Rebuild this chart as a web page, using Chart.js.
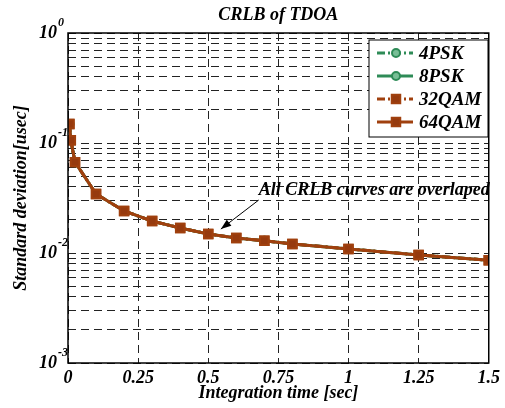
<!DOCTYPE html>
<html>
<head>
<meta charset="utf-8">
<script src="https://cdn.jsdelivr.net/npm/chart.js@4"></script>
<style>
  html,body{margin:0;padding:0;background:#fff;}
  #wrap{width:505px;height:408px;position:relative;}
</style>
</head>
<body>
<div id="wrap"><canvas id="c" width="505" height="408"></canvas></div>
<script>
// integration time (sec) and CRLB std dev (usec)
const tInt    = [0.005, 0.01, 0.025, 0.1, 0.2, 0.3, 0.4, 0.5, 0.6, 0.7, 0.8, 1.0, 1.25, 1.5];
const crlb4psk  = [0.149, 0.106, 0.067, 0.0344, 0.0241, 0.0195, 0.0169, 0.0149, 0.0137, 0.0129, 0.0121, 0.0109, 0.0096, 0.0086];
const crlb8psk  = [0.149, 0.106, 0.067, 0.0344, 0.0241, 0.0195, 0.0169, 0.0149, 0.0137, 0.0129, 0.0121, 0.0109, 0.0096, 0.0086];
const crlb32qam = [0.149, 0.106, 0.067, 0.0344, 0.0241, 0.0195, 0.0169, 0.0149, 0.0137, 0.0129, 0.0121, 0.0109, 0.0096, 0.0086];
const crlb64qam = [0.149, 0.106, 0.067, 0.0344, 0.0241, 0.0195, 0.0169, 0.0149, 0.0137, 0.0129, 0.0121, 0.0109, 0.0096, 0.0086];
const seriesNames = ["4PSK", "8PSK", "32QAM", "64QAM"];
const yMajor = [1, 0.1, 0.01, 0.001];
const yMajorExp = ["0", "-1", "-2", "-3"];
const xTicks = [0, 0.25, 0.5, 0.75, 1, 1.25, 1.5];

const GREEN = "rgb(46,139,87)", BROWN = "rgb(160,64,14)";
const FONT = "'Liberation Serif','Times New Roman',serif";
const pts = arr => arr.map((v, i) => ({ x: tInt[i], y: v }));

// minor grid values for the log axis (1..9 per decade)
function logGrid(){
  const out = [];
  for (let e = -3; e < 0; e++) for (let m = 1; m < 10; m++) out.push(+(m * Math.pow(10, e)).toPrecision(3));
  out.push(1);
  return out;
}

const frame = {
  id: "frame",
  afterDraw(chart){
    const { ctx, chartArea: a, scales: { x, y } } = chart;
    ctx.save();
    // box
    ctx.strokeStyle = "#000"; ctx.lineWidth = 1.5; ctx.setLineDash([]);
    ctx.strokeRect(a.left, a.top, a.right - a.left, a.bottom - a.top);
    // y tick labels with superscript
    ctx.fillStyle = "#000";
    yMajor.forEach((v, i) => {
      const py = y.getPixelForValue(v);
      ctx.font = "bold italic 18px " + FONT;
      ctx.textAlign = "right"; ctx.textBaseline = "middle";
      ctx.fillText("10", a.left - 11, py);
      ctx.font = "bold italic 12px " + FONT;
      ctx.textAlign = "left";
      ctx.fillText(yMajorExp[i], a.left - 10, py - 10);
    });
    // title
    ctx.font = "bold italic 18px " + FONT;
    ctx.textAlign = "center"; ctx.textBaseline = "middle";
    ctx.fillText("CRLB of TDOA", (a.left + a.right) / 2, 15);
    // annotation
    const tx = x.getPixelForValue(0.68), ty = y.getPixelForValue(0.0374);
    ctx.font = "bold italic 18px " + FONT;
    ctx.textAlign = "left";
    ctx.fillText("All CRLB curves are overlaped", tx, ty);
    const x0 = x.getPixelForValue(0.68), y0 = y.getPixelForValue(0.0303);
    const x1 = x.getPixelForValue(0.545), y1 = y.getPixelForValue(0.0165);
    ctx.lineWidth = 1;
    ctx.beginPath(); ctx.moveTo(x0, y0); ctx.lineTo(x1, y1); ctx.stroke();
    const ang = Math.atan2(y1 - y0, x1 - x0);
    ctx.beginPath();
    ctx.moveTo(x1, y1);
    ctx.lineTo(x1 - 11 * Math.cos(ang - 0.35), y1 - 11 * Math.sin(ang - 0.35));
    ctx.lineTo(x1 - 11 * Math.cos(ang + 0.35), y1 - 11 * Math.sin(ang + 0.35));
    ctx.closePath(); ctx.fill();
    // legend
    const lx = 369, ly = 40, lw = 119, lh = 97;
    ctx.fillStyle = "#fff"; ctx.fillRect(lx, ly, lw, lh);
    ctx.strokeStyle = "#000"; ctx.lineWidth = 1;
    ctx.strokeRect(lx, ly, lw, lh);
    chart.data.datasets.forEach((ds, i) => {
      const cy = ly + 13 + i * 23;
      ctx.strokeStyle = ds.borderColor; ctx.lineWidth = ds.borderWidth;
      ctx.setLineDash(ds.borderDash || []);
      ctx.beginPath(); ctx.moveTo(lx + 8, cy); ctx.lineTo(lx + 44, cy); ctx.stroke();
      ctx.setLineDash([]);
      ctx.fillStyle = ds.pointBackgroundColor; ctx.strokeStyle = ds.pointBorderColor;
      ctx.lineWidth = ds.pointBorderWidth;
      const mx = lx + 27;
      if (ds.pointStyle === "rect") {
        const s = ds.pointRadius * Math.SQRT1_2;
        ctx.fillRect(mx - s, cy - s, 2 * s, 2 * s); ctx.strokeRect(mx - s, cy - s, 2 * s, 2 * s);
      } else {
        ctx.beginPath(); ctx.arc(mx, cy, ds.pointRadius, 0, Math.PI * 2); ctx.fill(); ctx.stroke();
      }
      ctx.fillStyle = "#000";
      ctx.font = "bold italic 19px " + FONT;
      ctx.textAlign = "left"; ctx.textBaseline = "middle";
      ctx.fillText(ds.label, lx + 50, cy + 1);
    });
    ctx.restore();
  }
};

function series(i, data, color, dash, style, order){
  const round = style === "circle";
  return {
    label: seriesNames[i], data: pts(data), order,
    borderColor: color, borderWidth: 3, borderDash: dash,
    pointStyle: style, pointRadius: round ? 4 : 6, pointBorderWidth: 2,
    pointBorderColor: color,
    pointBackgroundColor: round ? "rgb(120,190,150)" : "rgb(150,58,14)",
    tension: 0, fill: false
  };
}

new Chart(document.getElementById("c"), {
  type: "line",
  data: { datasets: [
    series(0, crlb4psk, GREEN, [8, 3, 2, 3], "circle", 3),
    series(1, crlb8psk, GREEN, [], "circle", 2),
    series(2, crlb32qam, BROWN, [8, 3, 2, 3], "rect", 1),
    series(3, crlb64qam, BROWN, [], "rect", 0)
  ]},
  options: {
    responsive: false, animation: false,
    layout: { padding: { top: 33, right: 15, left: 0, bottom: 0 } },
    plugins: { legend: { display: false }, tooltip: { enabled: false } },
    scales: {
      x: {
        type: "linear", min: 0, max: 1.5,
        afterBuildTicks(s){ s.ticks = xTicks.map(v => ({ value: v })); },
        afterFit(s){ s.height = 45; },
        ticks: { color: "#000", padding: 5, maxRotation: 0, callback: v => String(v),
                 font: { family: FONT, size: 18, weight: "bold", style: "italic" } },
        grid: { color: "#222", lineWidth: 1, drawTicks: false },
        border: { display: false, dash: [8, 5] },
        title: { display: true, text: "Integration time [sec]", color: "#000", padding: { top: 0, bottom: 4 },
                 font: { family: FONT, size: 18, weight: "bold", style: "italic" } }
      },
      y: {
        type: "logarithmic", min: 0.001, max: 1,
        afterBuildTicks(s){ s.ticks = logGrid().map(v => ({ value: v })); },
        afterFit(s){ s.width = 68; },
        ticks: { display: false },
        grid: { color: "#222", lineWidth: 1, drawTicks: false },
        border: { display: false, dash: [8, 5] },
        title: { display: true, text: "Standard deviation[usec]", color: "#000", padding: { top: 11, bottom: 0 },
                 font: { family: FONT, size: 18, weight: "bold", style: "italic" } }
      }
    }
  },
  plugins: [frame]
});
</script>
</body>
</html>
